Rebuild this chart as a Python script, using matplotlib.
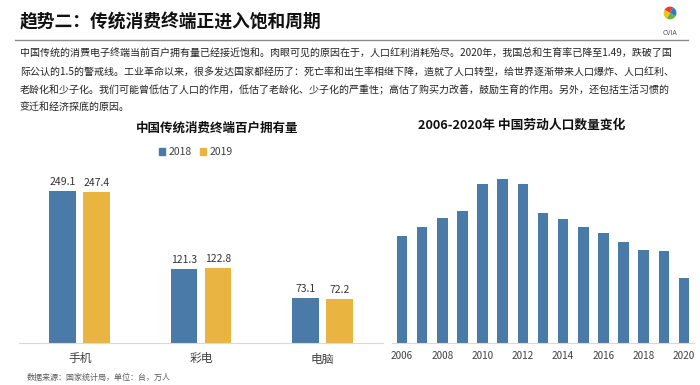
import matplotlib
matplotlib.use("Agg")
import matplotlib.pyplot as plt
from matplotlib.patches import Patch
import numpy as np

plt.rcParams['font.family'] = ['Noto Sans CJK SC', 'DejaVu Sans']

# data
categories = ['手机', '彩电', '电脑']
own_2018 = [249.1, 121.3, 73.1]
own_2019 = [247.4, 122.8, 72.2]
years = list(range(2006, 2021))
labor = [90560, 91130, 91640, 92090, 93750, 94072, 93727, 91954,
         91583, 91096, 90747, 90199, 89729, 89640, 87990]
year_ticks = list(range(2006, 2021, 2))

title = '趋势二：传统消费终端正进入饱和周期'
para = ['中国传统的消费电子终端当前百户拥有量已经接近饱和。肉眼可见的原因在于，人口红利消耗殆尽。2020年，我国总和生育率已降至1.49，跌破了国',
        '际公认的1.5的警戒线。工业革命以来，很多发达国家都经历了：死亡率和出生率相继下降，造就了人口转型，给世界逐渐带来人口爆炸、人口红利、',
        '老龄化和少子化。我们可能曾低估了人口的作用，低估了老龄化、少子化的严重性；高估了购买力改善，鼓励生育的作用。另外，还包括生活习惯的',
        '变迁和经济探底的原因。']
source = '数据来源：国家统计局，单位：台，万人'

BLUE = '#4a7aa7'
GOLD = '#eab441'
W, H = 700, 385

fig = plt.figure(figsize=(7, 3.85), dpi=100)
fig.patch.set_facecolor('white')

def fx(px):
    return px / W

def fy(py):
    return 1 - py / H

# header
fig.text(fx(20), fy(22), title, fontsize=12.8, fontweight='bold', color='#111111', va='center', ha='left')
fig.add_artist(plt.Line2D([fx(15), fx(688)], [fy(39.5), fy(39.5)], color='#8c8c8c', lw=1.0,
                          transform=fig.transFigure))
for i, line in enumerate(para):
    fig.text(fx(20), fy(54 + i * 18), line, fontsize=7.2, color='#222222', va='center', ha='left')

# logo
lax = fig.add_axes([fx(662), fy(21), fx(16), 16 / H])
lax.pie([1, 1, 1, 1], colors=['#e2403a', '#f0c419', '#6db33f', '#2a7fc0'], startangle=60)
lax.set_aspect('equal')
fig.text(fx(670), fy(33), 'CVIA', fontsize=5, color='#555555', ha='center', va='center')

# left chart
ax1 = fig.add_axes([fx(19), fy(342.7), fx(364), (342.7 - 160) / H])
x = np.arange(len(categories))
b1 = ax1.bar(x - 0.14, own_2018, 0.22, color=BLUE, label='2018')
b2 = ax1.bar(x + 0.14, own_2019, 0.22, color=GOLD, label='2019')
for bars, vals in ((b1, own_2018), (b2, own_2019)):
    for r, v in zip(bars, vals):
        ax1.annotate(f'{v:.1f}', (r.get_x() + r.get_width() / 2, v), xytext=(0, 3),
                     textcoords='offset points', ha='center', va='bottom',
                     fontsize=7.5, color='#333333')
ax1.set_xlim(-0.5, 2.5)
ax1.set_ylim(0, 300)
ax1.set_xticks(x)
ax1.set_xticklabels(categories, fontsize=8.5, color='#404040')
ax1.tick_params(axis='x', length=0, pad=7)
ax1.set_yticks([])
for s in ['top', 'right', 'left']:
    ax1.spines[s].set_visible(False)
ax1.spines['bottom'].set_color('#d9d9d9')
fig.text(fx(217), fy(128), '中国传统消费终端百户拥有量', fontsize=9, fontweight='bold',
         color='#111111', ha='center', va='center')
fig.legend(handles=[Patch(color=BLUE, label='2018'), Patch(color=GOLD, label='2019')],
           loc='center', bbox_to_anchor=(fx(196), fy(152)), ncol=2, frameon=False,
           fontsize=7.5, handlelength=0.6, handleheight=0.6, handletextpad=0.3,
           columnspacing=0.8, labelcolor='#404040')
fig.text(fx(27), fy(377), source, fontsize=5.8, color='#595959', ha='left', va='center')

# right chart
ax2 = fig.add_axes([fx(392), fy(342.7), fx(302), (342.7 - 160) / H])
ax2.bar(years, labor, 0.52, color=BLUE)
ax2.set_xlim(2005.5, 2020.5)
ax2.set_ylim(84031, 95219)
ax2.set_xticks(year_ticks)
ax2.set_xticklabels([str(t) for t in year_ticks], fontsize=7.2, color='#404040')
ax2.tick_params(axis='x', length=0, pad=6)
ax2.set_yticks([])
for s in ['top', 'right', 'left']:
    ax2.spines[s].set_visible(False)
ax2.spines['bottom'].set_color('#d9d9d9')
fig.text(fx(522), fy(125), '2006-2020年 中国劳动人口数量变化', fontsize=9.2, fontweight='bold',
         color='#111111', ha='center', va='center')

fig.savefig('out.png', dpi=100, facecolor='white')
